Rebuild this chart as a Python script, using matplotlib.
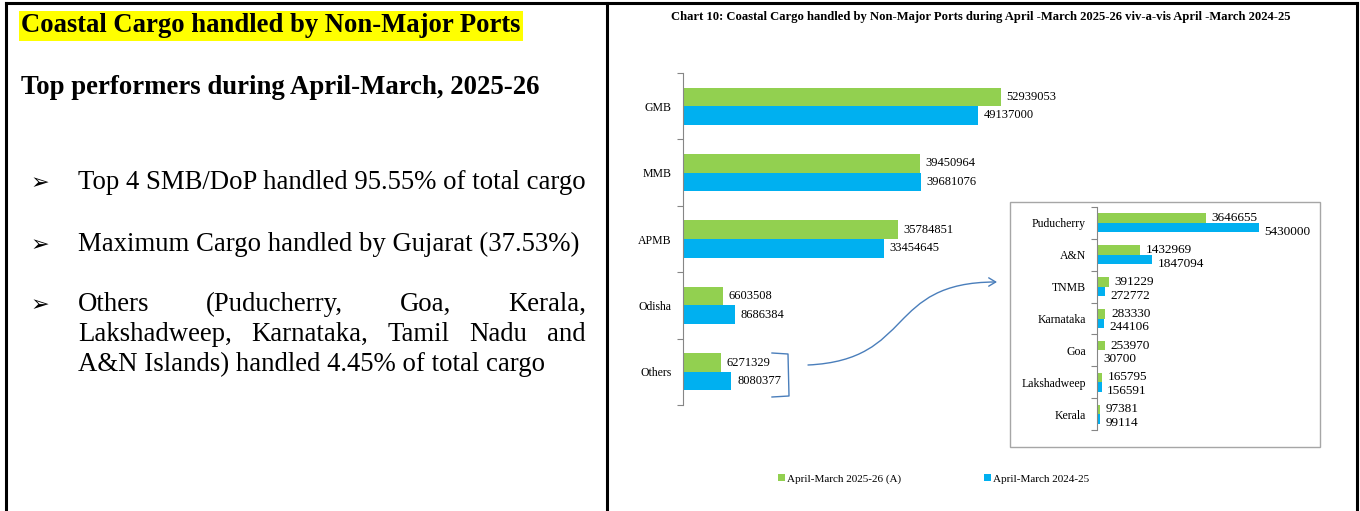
import matplotlib
matplotlib.use("Agg")
import matplotlib.pyplot as plt
import numpy as np
from matplotlib.lines import Line2D
from matplotlib.patches import Rectangle, FancyArrowPatch
from matplotlib.path import Path

plt.rcParams['font.family'] = ['Liberation Serif', 'DejaVu Sans']

W, H = 1360, 511

# data
main_ports = ["GMB", "MMB", "APMB", "Odisha", "Others"]
main_2526 = [52939053, 39450964, 35784851, 6603508, 6271329]
main_2425 = [49137000, 39681076, 33454645, 8686384, 8080377]

other_ports = ["Puducherry", "A&N", "TNMB", "Karnataka", "Goa", "Lakshadweep", "Kerala"]
other_2526 = [3646655, 1432969, 391229, 283330, 253970, 165795, 97381]
other_2425 = [5430000, 1847094, 272772, 244106, 30700, 156591, 99114]

series_names = ["April-March 2025-26 (A)", "April-March 2024-25"]

chart_title = ("Chart 10: Coastal Cargo handled by Non-Major Ports during "
               "April -March 2025-26 viv-a-vis April -March 2024-25")
heading = "Coastal Cargo handled by Non-Major Ports"
subheading = "Top performers during April-March, 2025-26"
bullet_1 = "Top 4 SMB/DoP handled 95.55% of total cargo"
bullet_2 = "Maximum Cargo handled by Gujarat (37.53%)"
bullet_3a = "Others (Puducherry, Goa, Kerala,"
bullet_3b = "Lakshadweep, Karnataka, Tamil Nadu and"
bullet_3c = "A&N Islands) handled 4.45% of total cargo"

GREEN = "#92d050"
BLUE = "#00b0f0"
ARROW = "#4a7ebb"


def fx(x):
    return x / W


def fy(y):
    return 1 - y / H


def px_box(x0, y0, x1, y1):
    return [x0 / W, 1 - y1 / H, (x1 - x0) / W, (y1 - y0) / H]


fig = plt.figure(figsize=(13.6, 5.11), dpi=100)
fig.patch.set_facecolor("white")

# page borders
for xs, ys in [([6, 1357], [3, 3]), ([6, 6], [3, 511]), ([1357, 1357], [3, 511]),
               ([607, 607], [3, 511])]:
    fig.add_artist(Line2D([fx(v) for v in xs], [fy(v) for v in ys],
                          color="black", lw=2.2, transform=fig.transFigure))

# ---- left text panel ----
fig.text(fx(21), fy(26), heading, fontsize=19.2, fontweight="bold", va="center",
         bbox=dict(facecolor="#ffff00", edgecolor="none", pad=1.5))
fig.text(fx(21), fy(88), subheading, fontsize=19.3, fontweight="bold", va="center")

body_size = 19.3
renderer = fig.canvas.get_renderer()


def justify(line, x0, x1, yb):
    words = line.split()
    objs = [fig.text(0, fy(yb), w, fontsize=body_size, va="baseline") for w in words]
    widths = [o.get_window_extent(renderer).width for o in objs]
    gap = (x1 - x0 - sum(widths)) / (len(words) - 1)
    x = x0
    for o, w in zip(objs, widths):
        o.set_x(fx(x))
        x += w + gap


for yb in [189, 251, 311]:
    fig.text(fx(31), fy(yb), "\u27a2", fontsize=16, va="baseline",
             family=["DejaVu Sans"])

fig.text(fx(78), fy(189), bullet_1, fontsize=body_size, va="baseline")
fig.text(fx(78), fy(251), bullet_2, fontsize=body_size, va="baseline")
justify(bullet_3a, 78, 586, 311)
justify(bullet_3b, 78, 586, 341)
fig.text(fx(78), fy(371), bullet_3c, fontsize=body_size, va="baseline")

# ---- chart title ----
fig.text(fx(981), fy(17), chart_title, fontsize=9.1, fontweight="bold",
         ha="center", va="center")

# ---- main bar chart ----
ax = fig.add_axes(px_box(683, 73, 1283, 405))
y = np.arange(len(main_ports))
bh = 0.28
bars_g = ax.barh(y - bh / 2, main_2526, height=bh, color=GREEN)
bars_b = ax.barh(y + bh / 2, main_2425, height=bh, color=BLUE)
for yy, v in zip(y, main_2526):
    ax.annotate(str(v), (v, yy - bh / 2), xytext=(4, 0), textcoords="offset points",
                va="center", fontsize=9)
for yy, v in zip(y, main_2425):
    ax.annotate(str(v), (v, yy + bh / 2), xytext=(4, 0), textcoords="offset points",
                va="center", fontsize=9)
ax.set_xlim(0, 100e6)
ax.set_ylim(len(main_ports) - 0.5, -0.5)
ax.set_yticks(y)
ax.set_yticklabels(main_ports, fontsize=8.5)
ax.set_yticks(np.arange(-0.5, len(main_ports), 1), minor=True)
ax.tick_params(axis="y", which="major", length=0, pad=8)
ax.tick_params(axis="y", which="minor", length=4, color="#868686", width=0.8)
ax.set_xticks([])
for s in ["top", "right", "bottom"]:
    ax.spines[s].set_visible(False)
ax.spines["left"].set_color("#868686")
ax.spines["left"].set_linewidth(0.8)
ax.patch.set_alpha(0)

# ---- inset for others ----
fig.add_artist(Rectangle((fx(1010), fy(447)), (1320 - 1010) / W, (447 - 202) / H,
                         fill=False, edgecolor="#a6a6a6", lw=1,
                         transform=fig.transFigure))
ax2 = fig.add_axes(px_box(1097, 207, 1297, 430))
y2 = np.arange(len(other_ports))
bh2 = 0.3
ax2.barh(y2 - bh2 / 2, other_2526, height=bh2, color=GREEN)
ax2.barh(y2 + bh2 / 2, other_2425, height=bh2, color=BLUE)
for yy, v in zip(y2, other_2526):
    ax2.annotate(str(v), (v, yy - bh2 / 2), xytext=(4, 0), textcoords="offset points",
                 va="center", fontsize=9.5)
for yy, v in zip(y2, other_2425):
    ax2.annotate(str(v), (v, yy + bh2 / 2), xytext=(4, -3), textcoords="offset points",
                 va="center", fontsize=9.5)
ax2.set_xlim(0, 6.7e6)
ax2.set_ylim(len(other_ports) - 0.5, -0.5)
ax2.set_yticks(y2)
ax2.set_yticklabels(other_ports, fontsize=8.5)
ax2.set_yticks(np.arange(-0.5, len(other_ports), 1), minor=True)
ax2.tick_params(axis="y", which="major", length=0, pad=8)
ax2.tick_params(axis="y", which="minor", length=4, color="#868686", width=0.8)
ax2.set_xticks([])
for s in ["top", "right", "bottom"]:
    ax2.spines[s].set_visible(False)
ax2.spines["left"].set_color("#868686")
ax2.spines["left"].set_linewidth(0.8)
ax2.patch.set_alpha(0)

# bracket round "Others" and the arrow to the inset
bx = [772, 788, 789, 772]
by = [353, 354, 396, 397]
fig.add_artist(Line2D([fx(v) for v in bx], [fy(v) for v in by], color=ARROW, lw=1,
                      transform=fig.transFigure))
verts = [(fx(808), fy(365)), (fx(915), fy(360)), (fx(885), fy(282)), (fx(997), fy(282))]
arrow_path = Path(verts, [Path.MOVETO, Path.CURVE4, Path.CURVE4, Path.CURVE4])
fig.add_artist(FancyArrowPatch(path=arrow_path, arrowstyle="->,head_length=5,head_width=3",
                               color=ARROW, lw=1, transform=fig.transFigure))

# legend
fig.legend([bars_g, bars_b], series_names, loc="center left",
           bbox_to_anchor=(fx(778), fy(479)), ncol=2, frameon=False, fontsize=8,
           handlelength=0.6, handleheight=0.6, handletextpad=0.2,
           columnspacing=7.5, borderpad=0, borderaxespad=0)

fig.savefig("out.png", dpi=100)
